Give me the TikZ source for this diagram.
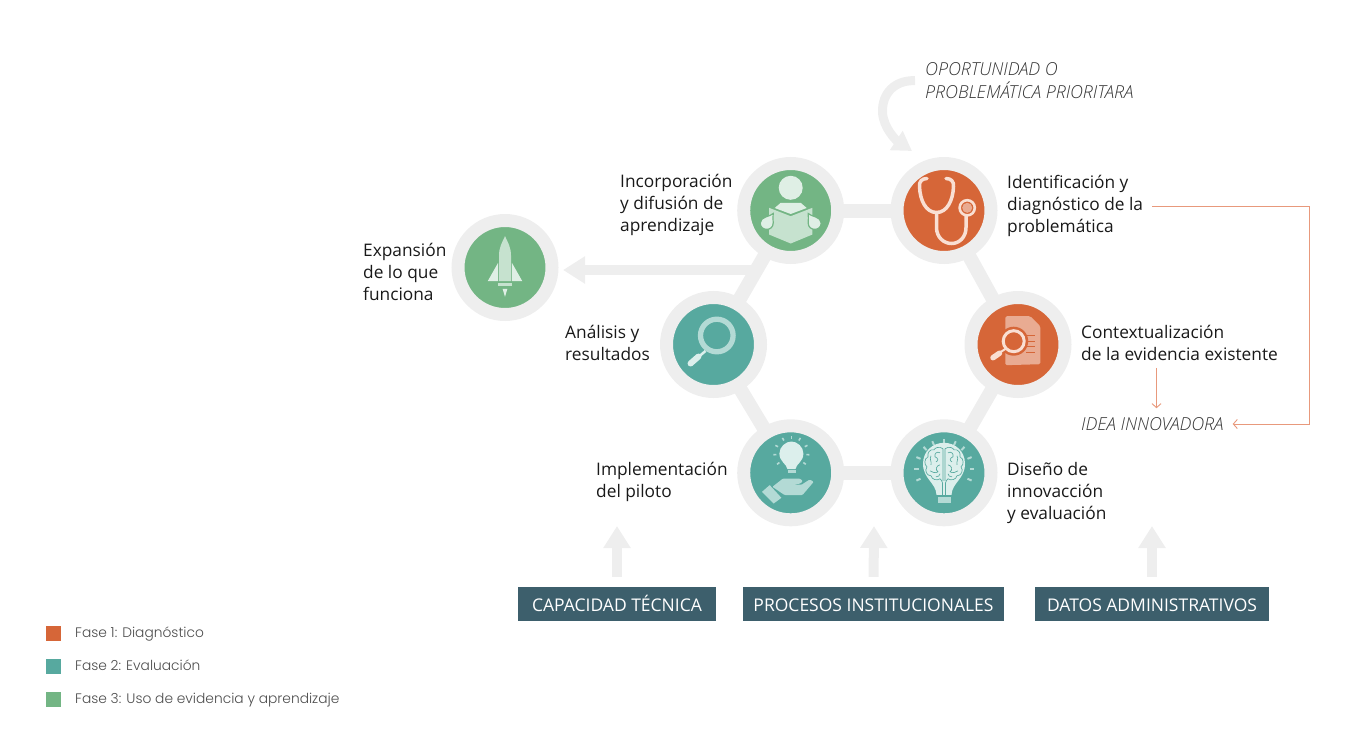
\documentclass[tikz,border=0pt]{standalone}
\usepackage{fontspec}
\usetikzlibrary{arrows.meta,calc}
\setmainfont{Open Sans}
\newfontfamily\notefont{Open Sans Light Italic}
\newfontfamily\legendfont{Poppins Light}
\definecolor{faseuno}{HTML}{D66638}
\definecolor{fasedos}{HTML}{57A99F}
\definecolor{fasetres}{HTML}{73B584}
\definecolor{ringgray}{HTML}{EEEEEE}
\definecolor{boxblue}{HTML}{3D5F6C}
\definecolor{thinline}{HTML}{E8997C}
\definecolor{paleorange}{HTML}{F9DFD3}
\definecolor{midorange}{HTML}{E9AB92}
\definecolor{paleteal}{HTML}{DCEFEC}
\definecolor{midteal}{HTML}{B3DAD5}
\definecolor{palegreen}{HTML}{DFEFE5}
\definecolor{midgreen}{HTML}{C6E2CF}
\tikzset{
  hub/.style={circle,draw=ringgray,line width=13pt,minimum size=94pt,inner sep=0pt},
  spoke/.style={draw=ringgray,line width=14pt,shorten <=-2pt,shorten >=-2pt},
  bigarrow/.style={draw=ringgray,line width=10pt,-{Triangle[length=22pt,width=26pt]}},
  thinarrow/.style={draw=thinline,line width=.9pt,-{Straight Barb[length=4pt,width=9pt]}},
  steplabel/.style={anchor=west,align=left,inner sep=0pt,text=black!90,font=\fontsize{17.3}{22}\selectfont},
  notelabel/.style={anchor=west,align=left,inner sep=0pt,text=black!80,font=\notefont\fontsize{17.9}{23}\selectfont},
  tagbox/.style={fill=boxblue,text=white,minimum height=34pt,inner sep=0pt,text height=14.5pt,text depth=0pt,font=\fontsize{17.5}{20}\selectfont},
  iconbook/.pic={
    \fill[palegreen] (0,-22.7) circle[radius=12pt];
    \fill[palegreen] (-16,-2.5)--(-10,-7.7)--(10,-7.7)--(16,-2.5)--(0,3.5)--cycle;
    \fill[midgreen] (-21.7,-2.7)--(0,5.7)--(21.7,-2.7)--(21.7,24)--(0,33)--(-21.7,24)--cycle;
    \foreach \s in {-1,1}{
      \filldraw[xscale=\s,fill=palegreen,draw=fasetres,line width=1.2pt] (-17.5,3) .. controls (-20,6) and (-30.5,6) .. (-30.5,12.5) .. controls (-30.5,21) and (-17.5,21) .. (-17.5,12.5) .. controls (-17.5,9) and (-18,6) .. (-17.5,3)--cycle;
    }
  },
  iconsteth/.pic={
    \draw[paleorange,line width=3.5pt,line cap=round] (-17,-32) .. controls (-22,-32) and (-25,-29) .. (-24.5,-24) .. controls (-24,-10) and (-18,2) .. (-7.5,2) .. controls (3,2) and (9,-10) .. (9.5,-24) .. controls (10,-29) and (7,-32) .. (2,-32);
    \draw[paleorange,line width=3.5pt] (-7.5,2)--(-7.5,17) .. controls (-7.5,27) and (0,33) .. (7.5,33) .. controls (15,33) and (22,27) .. (22,17)--(22,4);
    \draw[paleorange,line width=2.6pt] (23.2,-2.7) circle[radius=7.6pt];
    \fill[midorange] (23.2,-2.7) circle[radius=5pt];
  },
  icondoc/.pic={
    \fill[midorange,rounded corners=1.5pt] (-12.7,-28.3)--(12.3,-28.3)--(22.3,-18.3)--(22.3,19.7)--(-12.7,20.7)--cycle;
    \foreach \y in {-9.3,-3.3,2.3,8.3}{\draw[faseuno,line width=1.2pt] (8,\y)--(17.3,\y);}
    \fill[faseuno] (-4.3,-3.3) circle[radius=14.5pt];
    \draw[paleorange,line width=3pt] (-4.3,-3.3) circle[radius=10.5pt];
    \draw[paleorange,line width=2pt] (-18,8)--(-12,4);
    \draw[paleorange,line width=5.5pt,line cap=round] (-25,13.2)--(-18.5,8.7);
  },
  iconbrain/.pic={
    \foreach \a in {90,113,67,133,47,157,23,180,0,203,-23}{
      \draw[midteal,line width=2pt] ($(0,-4)+(\a:25.5pt)$)--($(0,-4)+(\a:30pt)$);
    }
    \fill[paleteal] (-7.5,22) .. controls (-8,10) and (-21,6) .. (-21,-9) .. controls (-21,-22) and (-11,-30) .. (0,-30) .. controls (11,-30) and (21,-22) .. (21,-9) .. controls (21,6) and (8,10) .. (7.5,22)--cycle;
    \fill[midteal] (-6.5,24)--(6.5,24)--(6.5,30)--(-6.5,30)--cycle;
    \foreach \s in {-1,1}{
      \begin{scope}[xscale=\s,draw=fasedos,line width=.65pt]
        \draw (1,-24) .. controls (5,-27) and (9,-25) .. (10,-23) .. controls (14,-24) and (17,-20) .. (16,-16) .. controls (20,-14) and (20,-8) .. (17,-6) .. controls (20,-2) and (17,3) .. (13,3) .. controls (12,7) and (7,8) .. (4,6) .. controls (3,7) and (2,8) .. (1.5,10)--(1.5,22);
        \draw (1,-24)--(1,8) (4,-20) .. controls (7,-22) and (10,-19) .. (9,-16) .. controls (6,-15) and (5,-12) .. (8,-11) (13,-17) .. controls (15,-14) and (12,-11) .. (13,-8) (4,-8) .. controls (8,-7) and (9,-3) .. (6,-1) .. controls (9,1) and (12,-1) .. (14,-2) (4,1) .. controls (4,3) and (6,4) .. (8,4);
      \end{scope}
    }
  },
  iconhand/.pic={
    \foreach \a in {90,120,60,153,27,184,-4,217,-37}{
      \draw[midteal,line width=1.6pt] ($(0.7,-19.3)+(\a:15pt)$)--($(0.7,-19.3)+(\a:18pt)$);
    }
    \fill[paleteal] (-3.3,-3.7) .. controls (-4,-9) and (-11.3,-11) .. (-11.3,-19.3) .. controls (-11.3,-26) and (-5,-31.3) .. (0.7,-31.3) .. controls (6.5,-31.3) and (12.7,-26) .. (12.7,-19.3) .. controls (12.7,-11) and (5.5,-9) .. (4.7,-3.7)--cycle;
    \fill[midteal] (-2.7,-3) rectangle (5,0.3);
    \fill[midteal] (-28.7,19)--(-21,12.3)--(-9.3,25)--(-17,30.7)--cycle;
    \fill[midteal,rounded corners=1pt] (-18.3,14)--(-7.7,5.7)--(9,5.7)--(12.3,8.3)--(9,11)--(1,11.5)--(10.7,12)--(19,6.7)--(23,9)--(11.7,22.3)--(-6,22.3)--cycle;
  },
  iconlens/.pic={
    \draw[midteal,line width=5.3pt] (3.3,-9) circle[radius=16.3pt];
    \draw[paleteal,line width=2.5pt] (-14,11.5)--(-8,6.5);
    \draw[paleteal,line width=6pt,line cap=round] (-23,19)--(-15,12);
  },
  iconrocket/.pic={
    \fill[midgreen] (0,-31.3) .. controls (-3,-25) and (-6,-20) .. (-6,-12)--(-6,13.7)--(6,13.7)--(6,-12) .. controls (6,-20) and (3,-25) .. (0,-31.3)--cycle;
    \fill[palegreen] (-6.9,-4.7)--(-17.3,13.7)--(-6.9,13.7)--cycle;
    \fill[palegreen] (6.9,-4.7)--(17.3,13.7)--(6.9,13.7)--cycle;
    \fill[midgreen] (-6.7,15.3) rectangle (7,18.7);
    \fill[palegreen] (-2.4,21.3)--(2.4,21.3)--(0,29.3)--cycle;
  }
}
\begin{document}
\begin{tikzpicture}[x=1pt,y=-1pt]
\useasboundingbox (0,0) rectangle (1370,736);
\node[hub,fill=fasetres] (incorp) at (790.7,210.5) {};
\node[hub,fill=faseuno] (ident) at (944,210.5) {};
\node[hub,fill=faseuno] (context) at (1018,344.5) {};
\node[hub,fill=fasedos] (diseno) at (944,472.8) {};
\node[hub,fill=fasedos] (implem) at (790.7,472.8) {};
\node[hub,fill=fasedos] (analisis) at (713.5,344.5) {};
\node[hub,fill=fasetres] (expansion) at (505,267.5) {};
\draw[spoke] (incorp)--(ident);
\draw[spoke] (ident)--(context);
\draw[spoke] (context)--(diseno);
\draw[spoke] (diseno)--(implem);
\draw[spoke] (implem)--(analisis);
\draw[spoke] (analisis)--(incorp);
\pic at (incorp) {iconbook};
\pic at (ident) {iconsteth};
\pic at (context) {icondoc};
\pic at (diseno) {iconbrain};
\pic at (implem) {iconhand};
\pic at (analisis) {iconlens};
\pic at (expansion) {iconrocket};
\coordinate (junction) at (752,270);
\coordinate (expansiontip) at (563,270);
\draw[bigarrow] (junction)--(expansiontip);
\node[steplabel] (incorplab) at (620,205) {Incorporación\\y difusión de\\aprendizaje};
\node[steplabel] (identlab) at (1007,206) {Identificación y\\diagnóstico de la\\problemática};
\node[steplabel] (contextlab) at (1081,343) {Contextualización\\de la evidencia existente};
\node[steplabel] (disenolab) at (1007,493) {Diseño de\\innovacción\\y evaluación};
\node[steplabel] (implemlab) at (596,482) {Implementación\\del piloto};
\node[steplabel] (analisislab) at (565,343) {Análisis y\\resultados};
\node[steplabel] (expansionlab) at (363,272) {Expansión\\de lo que\\funciona};
\node[notelabel] (oportunidad) at (925,81) {OPORTUNIDAD O\\PROBLEMÁTICA PRIORITARA};
\node[notelabel] (idea) at (1081,424) {IDEA INNOVADORA};
\coordinate (identtip) at (912,151);
\draw[draw=ringgray,line width=9pt,-{Triangle[length=19pt,width=22pt]},shorten <=10pt] (oportunidad.west) .. controls (895,80) and (882,93) .. (882.5,112) .. controls (883,128) and (897,141) .. (identtip);
\coordinate (railx) at (1309.5,205);
\coordinate (dropx) at (1156.5,372);
\draw[thinarrow,shorten <=9pt,shorten >=9pt] (identlab.east) -| (idea.east -| railx)--(idea.east);
\draw[thinarrow,shorten <=7pt,shorten >=9pt] (contextlab.south -| dropx)--(idea.north -| dropx);
\node[tagbox,minimum width=198pt] (capacidad) at (617,604) {CAPACIDAD TÉCNICA};
\node[tagbox,minimum width=261pt] (procesos) at (873.5,604) {PROCESOS INSTITUCIONALES};
\node[tagbox,minimum width=234pt] (datos) at (1152,604) {DATOS ADMINISTRATIVOS};
\coordinate (capacidadtip) at (617,526);
\coordinate (procesostip) at (874,526);
\coordinate (datostip) at (1152,526);
\foreach \from/\to in {capacidad/capacidadtip,procesos/procesostip,datos/datostip}{
  \draw[bigarrow,shorten <=10pt] (\from.north)--(\to);
}
\foreach \y/\col/\lab/\nm in {633/faseuno/Fase 1: Diagnóstico/uno,666/fasedos/Fase 2: Evaluación/dos,699/fasetres/Fase 3: Uso de evidencia y aprendizaje/tres}{
  \node[fill=\col,minimum size=15pt,inner sep=0pt] (leg\nm) at (53.5,\y) {};
  \node[anchor=base west,inner sep=0pt,text=black!70,font=\legendfont\fontsize{13.8}{15}\selectfont] (leglab\nm) at (75,\y+4) {\lab};
}
\end{tikzpicture}
\end{document}
